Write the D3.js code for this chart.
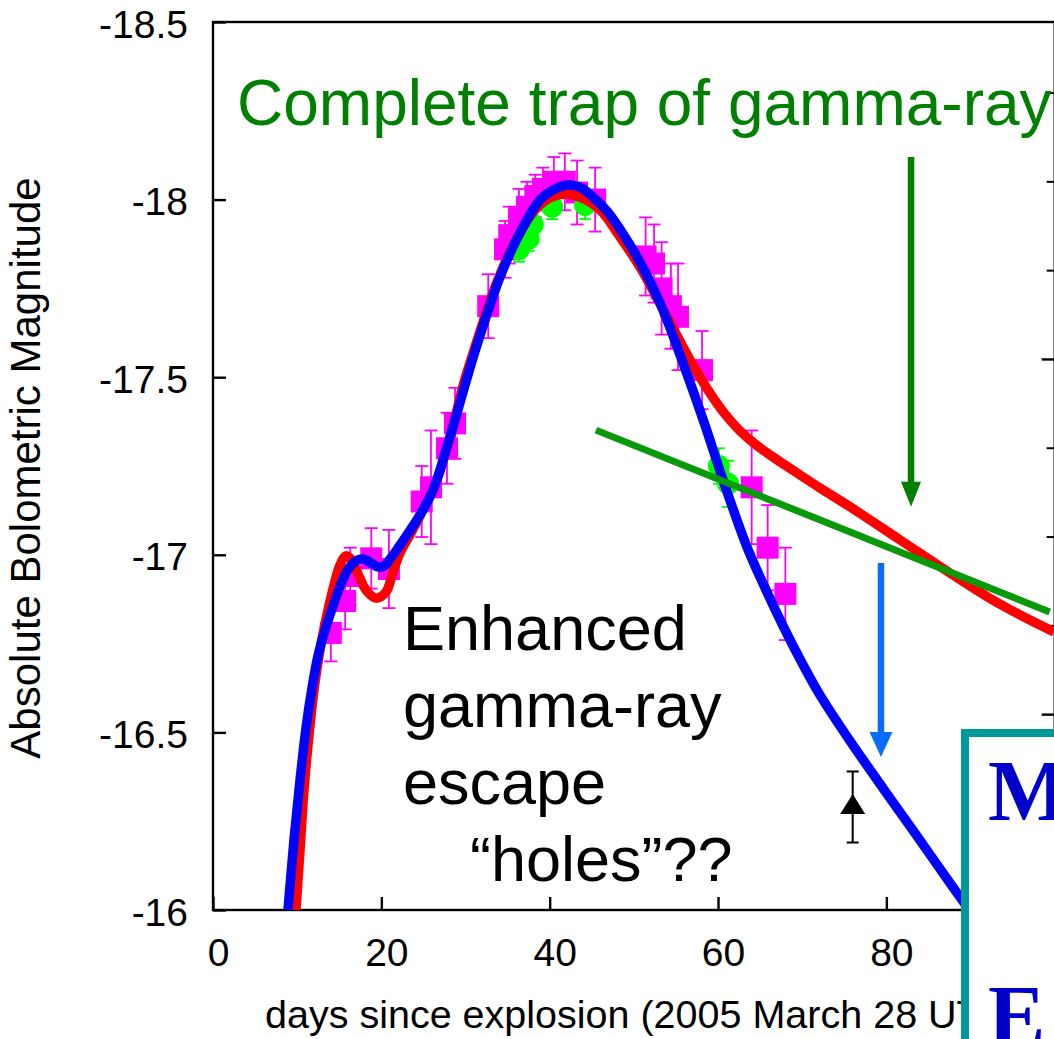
<!DOCTYPE html>
<html><head><meta charset="utf-8">
<script src="https://cdn.jsdelivr.net/npm/d3@7"></script>
<style>
html,body{margin:0;padding:0;background:#fff;overflow:hidden}
svg{display:block}
text{font-family:"Liberation Sans",Arial,sans-serif}
</style></head><body>
<svg id="chart" width="1054" height="1039"></svg>
<script>
// ---- axis ticks ----
const xTicks = [0, 20, 40, 60, 80];
const yTicks = [-18.5, -18, -17.5, -17, -16.5, -16];
// inward ticks along the right-hand frame (second scale, labels off-canvas)
const rightMinor = [0.8, 1.8, 2.8, 4.8, 5.8, 6.8];
const rightMajor = [3.8, 7.8];

// ---- bolometric light curve: observed points (days, mag, 1-sigma) ----
const sqDay = [14.0, 15.7, 16.3, 18.8, 20.9, 24.8, 25.9, 27.8, 28.75, 32.7, 34.7, 35.2, 36.35, 37.3, 38.3, 39.2, 40.5, 41.8, 43.25, 45.4, 51.4, 52.4, 53.3, 54.4, 55.25, 58.1, 64.0, 65.9, 68.0];
const sqMag = [-16.78, -16.87, -16.94, -16.99, -16.96, -17.15, -17.19, -17.30, -17.37, -17.70, -17.86, -17.90, -17.95, -17.98, -18.01, -18.03, -18.05, -18.05, -18.02, -18.00, -17.84, -17.82, -17.75, -17.70, -17.67, -17.52, -17.19, -17.02, -16.89];
const sqErr = [0.08, 0.08, 0.08, 0.085, 0.11, 0.10, 0.16, 0.10, 0.10, 0.09, 0.08, 0.08, 0.08, 0.07, 0.06, 0.06, 0.07, 0.08, 0.09, 0.09, 0.11, 0.11, 0.13, 0.12, 0.15, 0.11, 0.16, 0.12, 0.13];

// second data set (circles)
const ciDay = [36.35, 37.5, 38.0, 40.3, 44.2, 60.1, 61.2];
const ciMag = [-17.86, -17.89, -17.93, -17.98, -17.985, -17.25, -17.20];
const ciErr = [0.035, 0.035, 0.035, 0.035, 0.04, 0.05, 0.065];

// late-time lower limit
const limDay = [76.0];
const limMag = [-16.29];
const limErr = [0.10];

// ---- model curves ----
const blueDay = [8.91, 9.62, 10.34, 11.05, 11.76, 12.47, 13.31, 14.26, 15.21, 16.16, 17.11, 17.94, 18.77, 19.6, 20.32, 21.03, 21.98, 23.05, 24.59, 26.14, 27.8, 28.99, 29.94, 31.37, 34.1, 36.47, 38.85, 40.63, 42.06, 43.6, 45.15, 46.81, 48.35, 50.73, 53.11, 55.84, 58.45, 60.59, 63.44, 65.58, 67.72, 69.86, 72.12, 75.68, 79.6, 83.64, 87.56, 89.94];
const blueMag = [-16.0, -16.197, -16.366, -16.512, -16.625, -16.715, -16.788, -16.856, -16.918, -16.963, -16.985, -16.988, -16.977, -16.966, -16.968, -16.988, -17.019, -17.056, -17.112, -17.182, -17.303, -17.399, -17.478, -17.591, -17.782, -17.906, -17.999, -18.03, -18.041, -18.035, -18.007, -17.968, -17.917, -17.824, -17.709, -17.54, -17.365, -17.211, -17.022, -16.907, -16.8, -16.701, -16.605, -16.476, -16.343, -16.208, -16.076, -15.997];

const redDay = [9.86, 10.34, 10.81, 11.41, 12.0, 12.71, 13.54, 14.38, 15.09, 15.8, 16.51, 17.23, 18.18, 19.37, 20.55, 21.39, 22.22, 23.4, 24.83, 26.38, 27.56, 28.75, 29.7, 31.13, 33.74, 36.12, 38.26, 40.04, 41.82, 43.6, 45.98, 48.35, 50.73, 53.94, 57.03, 59.05, 60.83, 62.61, 64.39, 66.18, 67.96, 69.74, 72.12, 75.68, 81.62, 87.56, 93.5, 99.92];
const redMag = [-16.0, -16.169, -16.338, -16.493, -16.619, -16.732, -16.831, -16.915, -16.971, -16.997, -16.985, -16.946, -16.901, -16.878, -16.895, -16.952, -17.005, -17.056, -17.121, -17.197, -17.281, -17.385, -17.475, -17.585, -17.768, -17.892, -17.971, -18.005, -18.016, -18.007, -17.971, -17.895, -17.81, -17.67, -17.534, -17.455, -17.396, -17.349, -17.312, -17.281, -17.253, -17.225, -17.188, -17.135, -17.042, -16.949, -16.861, -16.783];

// 56Co decay slope (full trapping)
const trapDay = [45.5, 99.4];
const trapMag = [-17.351, -16.839];

// annotation arrows: [day, start mag, tip mag]
const trapArrow = [82.93, -18.12, -17.135];
const escArrow = [79.36, -16.977, -16.431];

// ---- layout ----
const svg = d3.select("#chart");
const W = 1054, H = 1039;
const x = d3.scaleLinear().domain([0, 100]).range([213, 1054.7]);
const y = d3.scaleLinear().domain([-18.5, -16]).range([22, 910]);
const yR = d3.scaleLinear().domain([0, 10]).range([22, 910]);

svg.append("rect").attr("width", W).attr("height", H).attr("fill", "#fff");

svg.append("defs").append("clipPath").attr("id", "plot")
  .append("rect").attr("x", 213).attr("y", 22).attr("width", 842).attr("height", 888);

// frame
svg.append("rect").attr("x", 213).attr("y", 22).attr("width", 841.7).attr("height", 888)
  .attr("fill", "none").attr("stroke", "#000").attr("stroke-width", 2.4);

// left axis
const gy = svg.append("g").attr("transform", "translate(213,0)")
  .call(d3.axisLeft(y).tickValues(yTicks).tickSize(-13).tickSizeOuter(0).tickPadding(25)
    .tickFormat(d => String(d)));
gy.select(".domain").remove();
gy.selectAll(".tick line").attr("stroke-width", 2.4);
gy.selectAll(".tick text").attr("font-size", 39).attr("dy", 15).attr("fill", "#000");

// bottom axis
const gx = svg.append("g").attr("transform", "translate(0,910)")
  .call(d3.axisBottom(x).tickValues(xTicks).tickSize(-13).tickSizeOuter(0).tickPadding(28)
    .tickFormat(d => String(d)));
gx.select(".domain").remove();
gx.selectAll(".tick line").attr("stroke-width", 2.4);
gx.selectAll(".tick text").attr("font-size", 39).attr("dx", 5).attr("fill", "#000");

// right-hand inward ticks
const gr = svg.append("g").attr("transform", "translate(1054.7,0)");
gr.selectAll("line.mn").data(rightMinor).join("line").attr("class", "mn")
  .attr("x1", 0).attr("x2", -8).attr("y1", d => yR(d)).attr("y2", d => yR(d))
  .attr("stroke", "#000").attr("stroke-width", 2);
gr.selectAll("line.mj").data(rightMajor).join("line").attr("class", "mj")
  .attr("x1", 0).attr("x2", -13).attr("y1", d => yR(d)).attr("y2", d => yR(d))
  .attr("stroke", "#000").attr("stroke-width", 2.4);

// axis titles
svg.append("text").attr("x", 265).attr("y", 1028).attr("font-size", 39.5).attr("fill", "#000")
  .text("days since explosion (2005 March 28 UT)");
svg.append("text").attr("transform", "translate(40,468) rotate(-90)").attr("text-anchor", "middle")
  .attr("font-size", 42).attr("fill", "#000").text("Absolute Bolometric Magnitude");

const plot = svg.append("g").attr("clip-path", "url(#plot)");

// observed points: error bars then squares
const sq = d3.range(sqDay.length).map(i => ({d: sqDay[i], m: sqMag[i], e: sqErr[i]}));
const eb = plot.append("g").attr("stroke", "#ff00ff").attr("stroke-width", 1.8);
sq.forEach(p => {
  const cx = x(p.d), y1 = y(p.m - p.e), y2 = y(p.m + p.e);
  eb.append("line").attr("x1", cx).attr("x2", cx).attr("y1", y1).attr("y2", y2);
  eb.append("line").attr("x1", cx - 6.5).attr("x2", cx + 6.5).attr("y1", y1).attr("y2", y1);
  eb.append("line").attr("x1", cx - 6.5).attr("x2", cx + 6.5).attr("y1", y2).attr("y2", y2);
});
plot.append("g").selectAll("rect").data(sq).join("rect")
  .attr("x", p => x(p.d) - 11).attr("y", p => y(p.m) - 11)
  .attr("width", 22).attr("height", 22).attr("fill", "#ff00ff");

// circles with error bars
const ci = d3.range(ciDay.length).map(i => ({d: ciDay[i], m: ciMag[i], e: ciErr[i]}));
const ce = plot.append("g").attr("stroke", "#00ff00").attr("stroke-width", 1.8);
ci.forEach(p => {
  const cx = x(p.d), y1 = y(p.m - p.e), y2 = y(p.m + p.e);
  ce.append("line").attr("x1", cx).attr("x2", cx).attr("y1", y1).attr("y2", y2);
  ce.append("line").attr("x1", cx - 6).attr("x2", cx + 6).attr("y1", y1).attr("y2", y1);
  ce.append("line").attr("x1", cx - 6).attr("x2", cx + 6).attr("y1", y2).attr("y2", y2);
});
plot.append("g").selectAll("circle").data(ci).join("circle")
  .attr("cx", p => x(p.d)).attr("cy", p => y(p.m)).attr("r", 11).attr("fill", "#00ff00");

// model curves
const line = d3.line().x(p => x(p[0])).y(p => y(p[1])).curve(d3.curveCatmullRom.alpha(0.5));
plot.append("path").datum(d3.zip(redDay, redMag)).attr("d", line)
  .attr("fill", "none").attr("stroke", "#ff0000").attr("stroke-width", 9.5).attr("stroke-linejoin", "round");
plot.append("path").datum(d3.zip(blueDay, blueMag)).attr("d", line)
  .attr("fill", "none").attr("stroke", "#0000ff").attr("stroke-width", 9.5).attr("stroke-linejoin", "round");

// full-trapping decay line
plot.append("line").attr("x1", x(trapDay[0])).attr("y1", y(trapMag[0]))
  .attr("x2", x(trapDay[1])).attr("y2", y(trapMag[1]))
  .attr("stroke", "#0a990a").attr("stroke-width", 7);

// lower limit point
const lim = d3.range(limDay.length).map(i => ({d: limDay[i], m: limMag[i], e: limErr[i]}));
lim.forEach(p => {
  const cx = x(p.d), y1 = y(p.m - p.e), y2 = y(p.m + p.e), cy = y(p.m);
  const g = plot.append("g").attr("stroke", "#000").attr("stroke-width", 2);
  g.append("line").attr("x1", cx).attr("x2", cx).attr("y1", y1).attr("y2", y2);
  g.append("line").attr("x1", cx - 6).attr("x2", cx + 6).attr("y1", y1).attr("y2", y1);
  g.append("line").attr("x1", cx - 6).attr("x2", cx + 6).attr("y1", y2).attr("y2", y2);
  plot.append("path").attr("d", `M${cx},${cy - 13}L${cx + 12.5},${cy + 7}L${cx - 12.5},${cy + 7}Z`).attr("fill", "#000");
});

// arrows
function arrow(a, color, headW, headL) {
  const ax = x(a[0]), y0 = y(a[1]), yt = y(a[2]);
  svg.append("line").attr("x1", ax).attr("x2", ax).attr("y1", y0).attr("y2", yt - headL + 2)
    .attr("stroke", color).attr("stroke-width", 6.5);
  svg.append("path").attr("d", `M${ax - headW / 2},${yt - headL}L${ax + headW / 2},${yt - headL}L${ax},${yt}Z`)
    .attr("fill", color);
}
arrow(trapArrow, "#008000", 20, 25);
arrow(escArrow, "#0a6cff", 23, 25);

// annotations
svg.append("text").attr("x", 237).attr("y", 125).attr("font-size", 64).attr("fill", "#008000")
  .text("Complete trap of gamma-ray");
const ann = svg.append("text").attr("font-size", 63).attr("fill", "#000");
[["Enhanced", 403, 650], ["gamma-ray", 403, 727], ["escape", 403, 804], ["\u201Choles\u201D??", 470, 881]]
  .forEach(([t, tx, ty]) => ann.append("tspan").attr("x", tx).attr("y", ty).text(t));

// inset panel
svg.append("rect").attr("x", 965).attr("y", 733).attr("width", 200).attr("height", 400)
  .attr("fill", "#fff").attr("stroke", "#009999").attr("stroke-width", 8);
const serif = "'Liberation Serif', 'Times New Roman', serif";
svg.append("text").attr("x", 988).attr("y", 820).attr("font-size", 86).attr("font-weight", "bold")
  .style("font-family", serif).attr("fill", "#0000cc").text("M");
svg.append("text").attr("x", 988).attr("y", 1045).attr("font-size", 86).attr("font-weight", "bold")
  .style("font-family", serif).attr("fill", "#0000cc").text("E");
</script>
</body></html>
